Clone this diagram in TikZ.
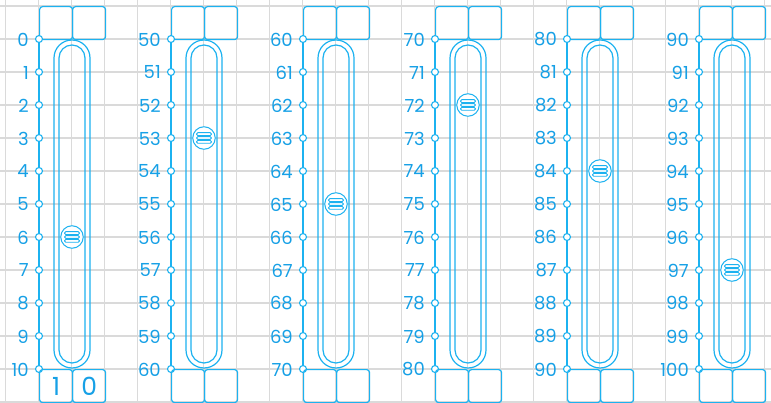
\documentclass[tikz,border=0pt]{standalone}
\usepackage{fontspec}
\setmainfont{Poppins}
\definecolor{ln}{RGB}{28,178,240}
\definecolor{tx}{RGB}{22,160,230}
\definecolor{gr}{RGB}{218,218,218}
\begin{document}
\begin{tikzpicture}[x=1pt,y=-1pt,
  cell/.style={draw=ln,line width=1.2pt,rounded corners=3pt,minimum width=33pt,minimum height=33pt,inner sep=0pt,anchor=north west,text=tx,font=\fontsize{25}{25}\selectfont},
  tickdot/.style={circle,draw=ln,fill=white,line width=1.1pt,minimum size=7pt,inner sep=0pt},
  lbl/.style={anchor=east,text=tx,inner sep=0pt,font=\fontsize{18}{18}\selectfont},
  knob/.style={circle,draw=ln,fill=white,line width=1pt,minimum size=22.5pt,inner sep=0pt},
  track/.style={draw=ln,line width=1.2pt},
  axis/.style={draw=ln,line width=1.3pt},
  bar/.style={draw=ln,line width=0.9pt,rounded corners=1.3pt},
  gridline/.style={draw=gr,line width=1.3pt}]
\useasboundingbox (0,0) rectangle (771,403);
\fill[white] (0,0) rectangle (771,403);
\foreach \i in {0,...,23} \draw[gridline] (5.5+33*\i,0) -- (5.5+33*\i,403);
\foreach \j in {0,...,12} \draw[gridline] (0,6+33*\j) -- (771,6+33*\j);
\foreach \c/\s/\k [count=\n] in {0/0/6,1/50/3,2/60/5,3/70/2,4/80/4,5/90/7}{
  \pgfmathsetmacro{\xo}{39+132*\c}
  % top boxes
  \node[cell] (top\n a) at (\xo,6) {};
  \node[cell] (top\n b) at (\xo+33,6) {};
  % track
  \draw[track,rounded corners=18pt] (\xo+15,40) rectangle (\xo+51,368);
  \draw[track,rounded corners=13pt] (\xo+20,45) rectangle (\xo+46,363);
  % ticks
  \foreach \t in {0,...,10}{
    \node[tickdot] (p\n-\t) at (\xo,39+33*\t) {};
    \pgfmathtruncatemacro{\v}{\s+\t}
    \node[lbl] (l\n-\t) at (\xo-10,39.5+33*\t) {\v};
  }
  \foreach \t [evaluate=\t as \u using int(\t+1)] in {0,...,9}
    \draw[axis] (p\n-\t) -- (p\n-\u);
  % knob
  \node[knob] (k\n) at (\xo+33,39+33*\k) {};
  \foreach \d in {-3.9,0,3.9}
    \draw[bar] ([shift={(-7.5,\d-1.4)}]k\n.center) rectangle ([shift={(7.5,\d+1.4)}]k\n.center);
}
\node[cell] (bot1a) at (39,369) {1};
\node[cell] (bot1b) at (72,369) {0};
\foreach \c [count=\n from 2] in {1,...,5}{
  \node[cell] (bot\n a) at (39+132*\c,369) {};
  \node[cell] (bot\n b) at (72+132*\c,369) {};
}
\end{tikzpicture}
\end{document}
